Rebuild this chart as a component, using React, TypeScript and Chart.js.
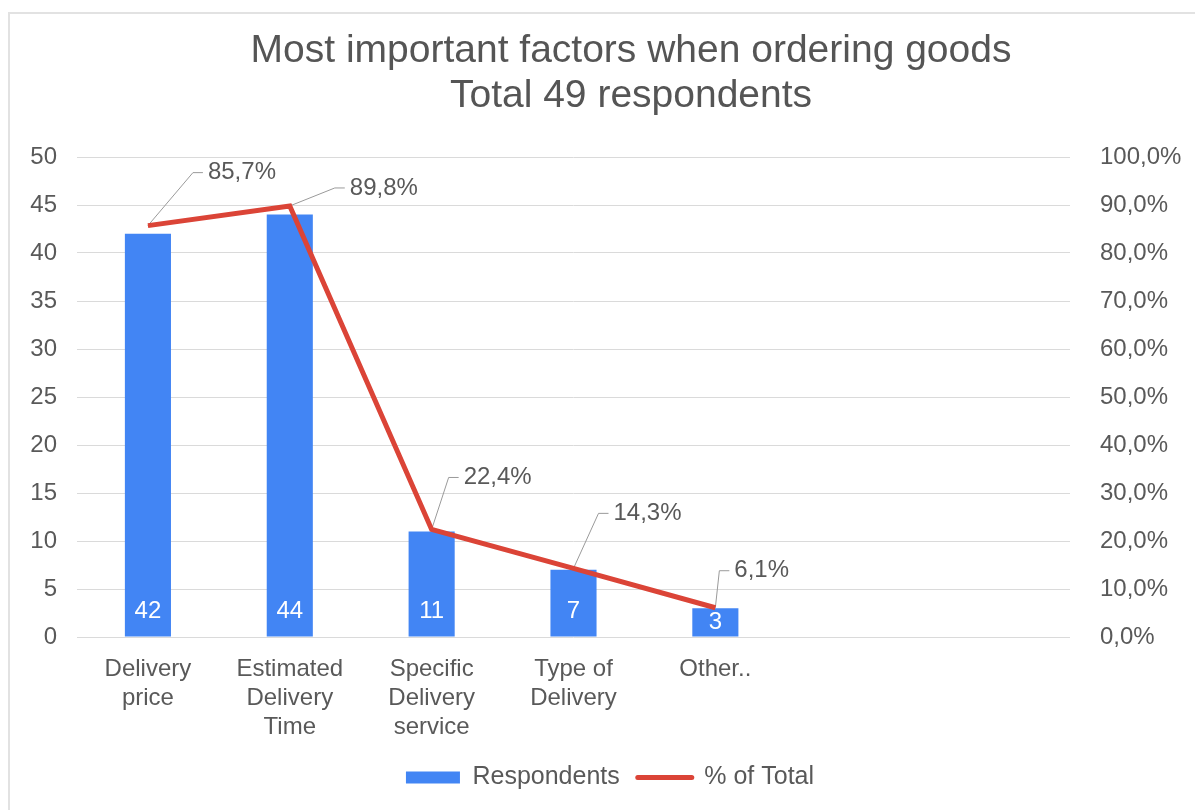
import React, { useEffect, useRef } from "react";
import { Chart, registerables } from "chart.js";

Chart.register(...registerables);

// ---- data ----
const titleLines = ["Most important factors when ordering goods", "Total 49 respondents"];
const categories: (string | string[])[] = [
  ["Delivery", "price"],
  ["Estimated", "Delivery", "Time"],
  ["Specific", "Delivery", "service"],
  ["Type of", "Delivery"],
  ["Other.."],
  "",
  "",
];
const respondents = [42, 44, 11, 7, 3, null, null];
const percentOfTotal = [85.7, 89.8, 22.4, 14.3, 6.1, null, null];
const seriesNames = ["Respondents", "% of Total"];
const leftAxisMax = 50;
const leftAxisStep = 5;
const rightAxisMax = 100;
const rightAxisStep = 10;

// ---- style ----
const BLUE = "#4285f4";
const RED = "#db4437";
const TEXT = "#595959";
const GRID = "#dadada";
const FONT = "'Liberation Sans', Arial, sans-serif";
const TITLE_CENTER_X = 631;
const TITLE_BASELINES = [62, 107];
const leaderOffsets = [
  [45, -53],
  [45, -18],
  [17, -52],
  [25, -55],
  [4, -37],
];

const fmtPct = (v: number) => v.toFixed(1).replace(".", ",") + "%";

const titlePlugin = {
  id: "customTitle",
  afterDraw(chart: any) {
    const ctx = chart.ctx;
    ctx.save();
    ctx.font = `39px ${FONT}`;
    ctx.fillStyle = "#555555";
    ctx.textAlign = "center";
    ctx.textBaseline = "alphabetic";
    titleLines.forEach((t, i) => ctx.fillText(t, TITLE_CENTER_X, TITLE_BASELINES[i]));
    ctx.restore();
  },
};

const labelsPlugin = {
  id: "valueLabels",
  beforeDatasetsDraw(chart: any) {
    const ctx = chart.ctx;
    const lineMeta = chart.getDatasetMeta(1);
    ctx.save();
    ctx.strokeStyle = "#9a9a9a";
    ctx.lineWidth = 1;
    lineMeta.data.forEach((pt: any, i: number) => {
      const v = percentOfTotal[i];
      if (v == null) return;
      const off = leaderOffsets[i] || [20, -40];
      const x1 = pt.x + off[0];
      const y1 = pt.y + off[1];
      ctx.beginPath();
      ctx.moveTo(pt.x, pt.y);
      ctx.lineTo(x1, y1);
      ctx.lineTo(x1 + 10, y1);
      ctx.stroke();
    });
    ctx.restore();
  },
  afterDatasetsDraw(chart: any) {
    const ctx = chart.ctx;
    const barMeta = chart.getDatasetMeta(0);
    const lineMeta = chart.getDatasetMeta(1);
    ctx.save();
    ctx.font = `24px ${FONT}`;
    ctx.textBaseline = "middle";
    ctx.textAlign = "center";
    ctx.fillStyle = "#ffffff";
    barMeta.data.forEach((el: any, i: number) => {
      const v = respondents[i];
      if (v == null) return;
      const { x, y, base } = el.getProps(["x", "y", "base"], true);
      const cy = Math.max(base - 25, y + 14);
      ctx.fillText(String(v), x, cy);
    });
    ctx.textAlign = "left";
    ctx.fillStyle = TEXT;
    lineMeta.data.forEach((pt: any, i: number) => {
      const v = percentOfTotal[i];
      if (v == null) return;
      const off = leaderOffsets[i] || [20, -40];
      ctx.fillText(fmtPct(v), pt.x + off[0] + 15, pt.y + off[1]);
    });
    ctx.restore();
  },
};

export default function App() {
  const canvasRef = useRef<HTMLCanvasElement | null>(null);

  useEffect(() => {
    if (!canvasRef.current) return;
    const chart = new Chart(canvasRef.current, {
      type: "bar",
      data: {
        labels: categories,
        datasets: [
          {
            type: "bar",
            label: seriesNames[0],
            data: respondents,
            backgroundColor: BLUE,
            borderWidth: 0,
            yAxisID: "y",
            order: 1,
            categoryPercentage: 1,
            barPercentage: 0.325,
          },
          {
            type: "line",
            label: seriesNames[1],
            data: percentOfTotal,
            borderColor: RED,
            backgroundColor: RED,
            borderWidth: 5,
            pointRadius: 0,
            pointHoverRadius: 0,
            tension: 0,
            yAxisID: "y1",
            order: 0,
          },
        ],
      } as any,
      options: {
        responsive: false,
        animation: false,
        layout: { padding: { left: 25, right: 0, top: 157, bottom: 10 } },
        plugins: {
          title: { display: false },
          legend: {
            display: true,
            position: "bottom",
            labels: {
              usePointStyle: true,
              pointStyleWidth: 54,
              boxWidth: 54,
              boxHeight: 12,
              padding: 18,
              color: TEXT,
              font: { family: FONT, size: 25 },
              generateLabels: () => [
                {
                  text: seriesNames[0],
                  fillStyle: BLUE,
                  strokeStyle: BLUE,
                  lineWidth: 0,
                  pointStyle: "rect",
                  datasetIndex: 0,
                  fontColor: TEXT,
                },
                {
                  text: seriesNames[1],
                  fillStyle: RED,
                  strokeStyle: RED,
                  lineWidth: 5,
                  lineCap: "round",
                  pointStyle: "line",
                  datasetIndex: 1,
                  fontColor: TEXT,
                },
              ],
            },
          },
          tooltip: { enabled: false },
        },
        scales: {
          x: {
            grid: { display: false },
            border: { display: false },
            ticks: {
              color: TEXT,
              font: { family: FONT, size: 24, lineHeight: 1.2 },
              padding: 10,
              maxRotation: 0,
              autoSkip: false,
            },
            afterFit: (s: any) => {
              s.height = 110;
            },
          },
          y: {
            position: "left",
            min: 0,
            max: leftAxisMax,
            grid: { color: GRID, lineWidth: 1, drawTicks: false },
            border: { display: false },
            ticks: {
              stepSize: leftAxisStep,
              color: TEXT,
              font: { family: FONT, size: 24 },
              padding: 20,
            },
            afterFit: (s: any) => {
              s.width = 52;
            },
          },
          y1: {
            position: "right",
            min: 0,
            max: rightAxisMax,
            grid: { display: false, drawTicks: false },
            border: { display: false },
            ticks: {
              stepSize: rightAxisStep,
              color: TEXT,
              font: { family: FONT, size: 24 },
              padding: 30,
              callback: (v: any) => fmtPct(Number(v)),
            },
            afterFit: (s: any) => {
              s.width = 125;
            },
          },
        },
      } as any,
      plugins: [labelsPlugin, titlePlugin],
    });
    return () => chart.destroy();
  }, []);

  return (
    <div
      style={{
        position: "fixed",
        left: 0,
        top: 0,
        width: 1195,
        height: 810,
        background: "#ffffff",
        overflow: "hidden",
      }}
    >
      <div
        style={{
          position: "absolute",
          left: 8,
          top: 12,
          right: 0,
          bottom: 0,
          borderTop: "2px solid #e2e2e2",
          borderLeft: "2px solid #e2e2e2",
        }}
      />
      <canvas
        ref={canvasRef}
        width={1195}
        height={810}
        style={{ position: "absolute", left: 0, top: 0 }}
      />
    </div>
  );
}
